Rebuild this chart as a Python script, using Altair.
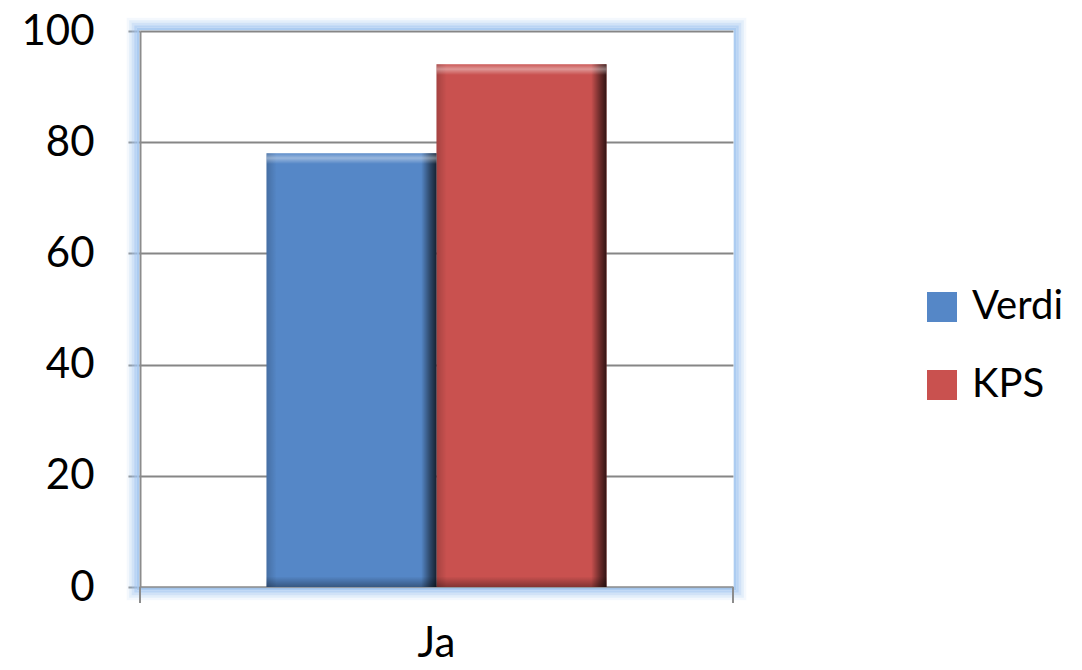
import altair as alt
import pandas as pd

categories = ["Ja", "Ja"]
series = ["Verdi", "KPS"]
values = [78, 94]
colors = ["#5587C7", "#C9514F"]
y_ticks = [0, 20, 40, 60, 80, 100]

W, H = 593, 556
FONT = "Lato"

df = pd.DataFrame({"cat": categories, "series": series, "value": values})

x_enc = alt.X("cat:N", title=None,
              scale=alt.Scale(paddingInner=0, paddingOuter=0.372),
              axis=alt.Axis(labelFontSize=42, labelFont=FONT, labelColor="#000",
                            labelAngle=0, ticks=False, labelPadding=36,
                            domainColor="#8c8c8c", domainWidth=2))
xoff = alt.XOffset("series:N", sort=series, scale=alt.Scale(paddingInner=0, paddingOuter=0))
y_scale = alt.Scale(domain=[0, 100])

base = alt.Chart(df)

bars = base.mark_bar(size=170).encode(
    x=x_enc,
    xOffset=xoff,
    y=alt.Y("value:Q", title=None, scale=y_scale,
            axis=alt.Axis(values=y_ticks, labelFontSize=42, labelFont=FONT,
                          labelColor="#000", tickSize=12, tickColor="#8c8c8c",
                          tickWidth=2, labelPadding=34, gridColor="#868686",
                          gridWidth=1.8, domainColor="#8c8c8c", domainWidth=2)),
    color=alt.Color("series:N", sort=series,
                    scale=alt.Scale(domain=series, range=colors),
                    legend=alt.Legend(title=None, orient="none", legendX=782,
                                      legendY=256, symbolType="square",
                                      symbolSize=900, symbolStrokeWidth=0,
                                      labelFontSize=40, labelFont=FONT,
                                      labelColor="#000", rowPadding=38,
                                      labelOffset=10, padding=0)),
)

side_grad = alt.Gradient(
    gradient="linear", x1=0, x2=1, y1=0, y2=0,
    stops=[alt.GradientStop(color="rgba(0,0,0,0.18)", offset=0),
           alt.GradientStop(color="rgba(0,0,0,0.0)", offset=0.06),
           alt.GradientStop(color="rgba(0,0,0,0.0)", offset=0.91),
           alt.GradientStop(color="rgba(0,0,0,0.45)", offset=0.96),
           alt.GradientStop(color="rgba(0,0,0,0.75)", offset=1)])
sides = base.mark_bar(color=side_grad).encode(
    x=alt.X("cat:N"), xOffset=xoff, y=alt.Y("value:Q", scale=y_scale))

top_grad = alt.Gradient(
    gradient="linear", x1=0, x2=0, y1=0, y2=1,
    stops=[alt.GradientStop(color="rgba(255,255,255,0.05)", offset=0),
           alt.GradientStop(color="rgba(255,255,255,0.4)", offset=0.45),
           alt.GradientStop(color="rgba(255,255,255,0.0)", offset=1)])
tops = base.transform_calculate(top2="datum.value - 1.9").mark_bar(color=top_grad).encode(
    x=alt.X("cat:N"), xOffset=xoff,
    y=alt.Y("value:Q", scale=y_scale), y2="top2:Q")

bot_grad = alt.Gradient(
    gradient="linear", x1=0, x2=0, y1=0, y2=1,
    stops=[alt.GradientStop(color="rgba(0,0,0,0.0)", offset=0),
           alt.GradientStop(color="rgba(0,0,0,0.35)", offset=1)])
bots = base.transform_calculate(b0="0", b1="1.9").mark_bar(color=bot_grad).encode(
    x=alt.X("cat:N"), xOffset=xoff,
    y=alt.Y("b1:Q", scale=y_scale), y2="b0:Q")

one = alt.Data(values=[{"k": 1}])
glows = []
for d, op in [(2, 0.9), (4.5, 0.75), (7, 0.5), (9.5, 0.3), (12, 0.12)]:
    glows.append(alt.Chart(one).mark_rect(fillOpacity=0, stroke="#a3c6f0",
                                          strokeWidth=2.6, strokeOpacity=op).encode(
        x=alt.value(-d), x2=alt.value(W + d), y=alt.value(-d), y2=alt.value(H + d)))

ticks = []
for xv in [0, W]:
    ticks.append(alt.Chart(one).mark_rule(color="#8c8c8c", strokeWidth=2).encode(
        x=alt.value(xv), y=alt.value(H), y2=alt.value(H + 16)))

chart = alt.layer(*glows, bars, sides, tops, bots, *ticks).properties(
    width=W, height=H,
    autosize=alt.AutoSizeParams(type="none"),
    padding={"left": 132, "top": 23, "right": 340, "bottom": 74},
).configure_view(stroke=None).configure_axis(labelFont=FONT)

chart.save("out.html", embed_options={"renderer": "svg", "actions": False})
